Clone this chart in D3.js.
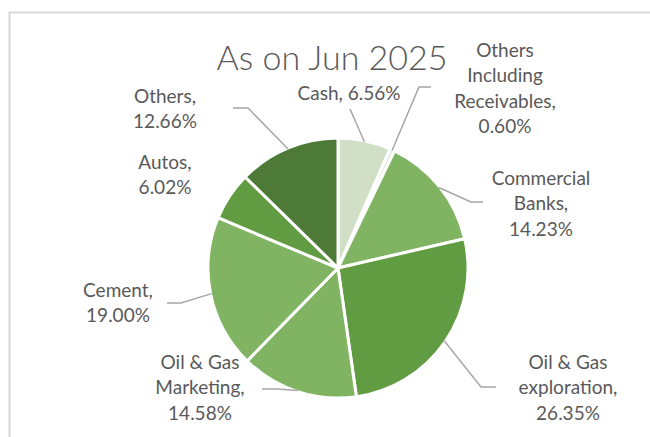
<!DOCTYPE html>
<html>
<head>
<meta charset="utf-8">
<script src="https://cdn.jsdelivr.net/npm/d3@7"></script>
<style>
  html, body { margin: 0; padding: 0; background: #ffffff; }
  svg { display: block; }
  text { font-family: Lato, "Open Sans", sans-serif; fill: #595959; }
</style>
</head>
<body>
<svg id="chart" width="650" height="437"></svg>
<script>
// Portfolio allocation by sector
const categories = [
  "Cash",
  "Others Including Receivables",
  "Commercial Banks",
  "Oil & Gas exploration",
  "Oil & Gas Marketing",
  "Cement",
  "Autos",
  "Others"
];
const shares = [6.56, 0.60, 14.23, 26.35, 14.58, 19.00, 6.02, 12.66];
const sliceColors = ["#d0dfc6", "#e4eddd", "#80b463", "#629c42", "#80b463", "#80b463", "#629c42", "#4e7a37"];
const labelLines = [
  ["Cash, 6.56%"],
  ["Others", "Including", "Receivables,", "0.60%"],
  ["Commercial", "Banks,", "14.23%"],
  ["Oil & Gas", "exploration,", "26.35%"],
  ["Oil & Gas", "Marketing,", "14.58%"],
  ["Cement,", "19.00%"],
  ["Autos,", "6.02%"],
  ["Others,", "12.66%"]
];
const title = "As on Jun 2025";

// Label block placement (centre x, first-line centre y) and leader elbows
const labelPos = [
  [349, 93], [505, 50], [541, 178], [568, 362],
  [200, 362], [118, 290], [165, 162], [165, 96]
];
// elbow point, horizontal end (null = no leader drawn)
const leaders = [
  [[350, 109], null],
  [[419, 87], [431, 87]],
  [[471, 202], [483, 202]],
  [[481, 387], [496, 387]],
  [[277, 389], [262, 389]],
  [[181, 303], [167, 303]],
  null,
  [[248, 108], [233, 108]]
];

const svg = d3.select("#chart");
const W = 650, H = 437;
const cx = 338, cy = 268, R = 130;
const lineH = 25.5;

// Chart area border
svg.append("rect")
  .attr("x", 9.5).attr("y", 12.5)
  .attr("width", W + 10).attr("height", H + 10)
  .attr("fill", "none")
  .attr("stroke", "#d9d9d9")
  .attr("stroke-width", 2);

svg.append("text")
  .attr("x", 332).attr("y", 70)
  .attr("text-anchor", "middle")
  .style("font-size", "34px")
  .style("font-weight", 300)
  .text(title);

const data = categories.map((c, i) => ({ name: c, value: shares[i], i }));
const pie = d3.pie().value(d => d.value).sort(null);
const arcs = pie(data);
const arc = d3.arc().innerRadius(0).outerRadius(R);

const g = svg.append("g").attr("transform", `translate(${cx},${cy})`);
g.selectAll("path.slice")
  .data(arcs)
  .join("path")
  .attr("class", "slice")
  .attr("d", arc)
  .attr("fill", d => sliceColors[d.data.i])
  .attr("stroke", "#ffffff")
  .attr("stroke-width", 3)
  .attr("stroke-linejoin", "round");

// Leader lines from the slice rim at its mid-angle
const leaderG = svg.append("g");
arcs.forEach((a, i) => {
  const L = leaders[i];
  if (!L) return;
  const mid = (a.startAngle + a.endAngle) / 2;
  const sx = cx + (R - 1) * Math.sin(mid);
  const sy = cy - (R - 1) * Math.cos(mid);
  const pts = [[sx, sy], L[0]];
  if (L[1]) pts.push(L[1]);
  leaderG.append("path")
    .attr("d", d3.line()(pts))
    .attr("fill", "none")
    .attr("stroke", "#a6a6a6")
    .attr("stroke-width", 1.5);
});

// Data labels
const labelG = svg.append("g");
labelLines.forEach((lines, i) => {
  const t = labelG.append("text")
    .attr("text-anchor", "middle")
    .style("font-size", "19px");
  lines.forEach((ln, k) => {
    t.append("tspan")
      .attr("x", labelPos[i][0])
      .attr("y", labelPos[i][1] + k * lineH)
      .attr("dy", "0.35em")
      .text(ln);
  });
});
</script>
</body>
</html>
